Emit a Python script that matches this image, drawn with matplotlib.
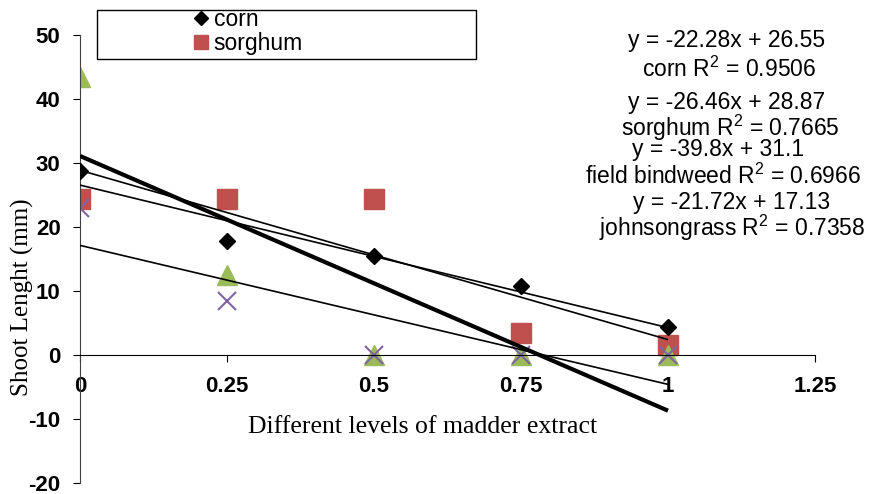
import matplotlib.pyplot as plt
from matplotlib.patches import Rectangle
import numpy as np

plt.rcParams['axes.unicode_minus'] = False
plt.rcParams['mathtext.fontset'] = 'custom'
plt.rcParams['mathtext.rm'] = 'Liberation Sans'
plt.rcParams['mathtext.it'] = 'Liberation Sans'

# data
levels = [0, 0.25, 0.5, 0.75, 1]
corn = [28.7, 17.8, 15.5, 10.8, 4.4]
sorghum = [24.4, 24.4, 24.4, 3.5, 1.6]
bindweed = [43.5, 12.5, 0, 0, 0]
johnson = [23.0, 8.4, 0, 0, 0]

names = ['corn', 'sorghum', 'field bindweed', 'johnsongrass']
slopes = [-22.28, -26.46, -39.8, -21.72]
intercepts = [26.55, 28.87, 31.1, 17.13]
r2 = ['0.9506', '0.7665', '0.6966', '0.7358']

xticks = [0, 0.25, 0.5, 0.75, 1, 1.25]
yticks = [-20, -10, 0, 10, 20, 30, 40, 50]

W, H = 874, 494
fig = plt.figure(figsize=(W / 100, H / 100), dpi=100)
ax = fig.add_axes([80 / W, 1 - 483 / H, (815 - 80) / W, (483 - 35) / H])

ax.plot(levels, corn, ls='none', marker='D', ms=8, color='black', label='corn', zorder=3)
ax.plot(levels, sorghum, ls='none', marker='s', ms=14, color='#C0504D', label='sorghum', zorder=2)
ax.plot(levels, bindweed, ls='none', marker='^', ms=14, color='#9BBB59', label='field bindweed', zorder=2)
ax.plot(levels, johnson, ls='none', marker='x', ms=13, mew=1.5, color='#8064A2', label='johnsongrass', zorder=2)

# linear trendlines
xs = np.array([0, 1])
widths = [1.2, 1.2, 3.0, 1.2]
for m, b, lw in zip(slopes, intercepts, widths):
    ax.plot(xs, m * xs + b, color='black', lw=lw, zorder=4, solid_capstyle='butt')

ax.set_xlim(0, 1.25)
ax.set_ylim(-20, 50)
ax.spines['top'].set_visible(False)
ax.spines['right'].set_visible(False)
ax.spines['bottom'].set_position(('data', 0))
ax.spines['left'].set_color('#404040')
ax.set_xticks(xticks)
ax.set_xticklabels(['0', '0.25', '0.5', '0.75', '1', '1.25'])
ax.set_yticks(yticks)
ax.tick_params(axis='x', direction='out', length=5, pad=10)
ax.tick_params(axis='y', direction='out', length=5, pad=9)
for lab in ax.get_xticklabels() + ax.get_yticklabels():
    lab.set_fontfamily('Liberation Sans')
    lab.set_fontweight('bold')
    lab.set_fontsize(16)

fig.text(423 / W, 1 - 427 / H, 'Different levels of madder extract',
         family='Liberation Serif', fontsize=18.5, ha='center', va='center')
fig.text(22 / W, 1 - 297 / H, 'Shoot Lenght (mm)', family='Liberation Serif',
         fontsize=18, rotation=90, ha='center', va='center')

# trendline equations
ys = [47, 77, 109, 136, 156, 184, 209, 236]
xc = [727, 729, 727, 730, 718, 723, 732, 732]
lines = []
for n, m, b, r in zip(names, slopes, intercepts, r2):
    lines.append('y = %gx + %g' % (m, b))
    lines.append('%s R$^2$ = %s' % (n, r))
for t, x, y in zip(lines, xc, ys):
    fig.text(x / W, 1 - y / H, t, family='Liberation Sans', fontsize=16.5,
             ha='center', va='baseline')

# legend box (only corn and sorghum visible)
fig.patches.append(Rectangle((97 / W, 1 - 59 / H), (476 - 97) / W, 49 / H,
                             transform=fig.transFigure, fill=False,
                             edgecolor='black', lw=1))
h, l = ax.get_legend_handles_labels()
leg = fig.legend(h[:2], l[:2], loc='upper left', bbox_to_anchor=(192 / W, 1 - 8 / H),
                 frameon=False, handlelength=0.8, handletextpad=0.15,
                 borderpad=0, borderaxespad=0, labelspacing=0.05,
                 prop={'family': 'Liberation Sans', 'size': 16.5})
leg.legend_handles[0].set_markersize(7)
leg.legend_handles[1].set_markersize(10)

fig.savefig('out.png', dpi=100)
